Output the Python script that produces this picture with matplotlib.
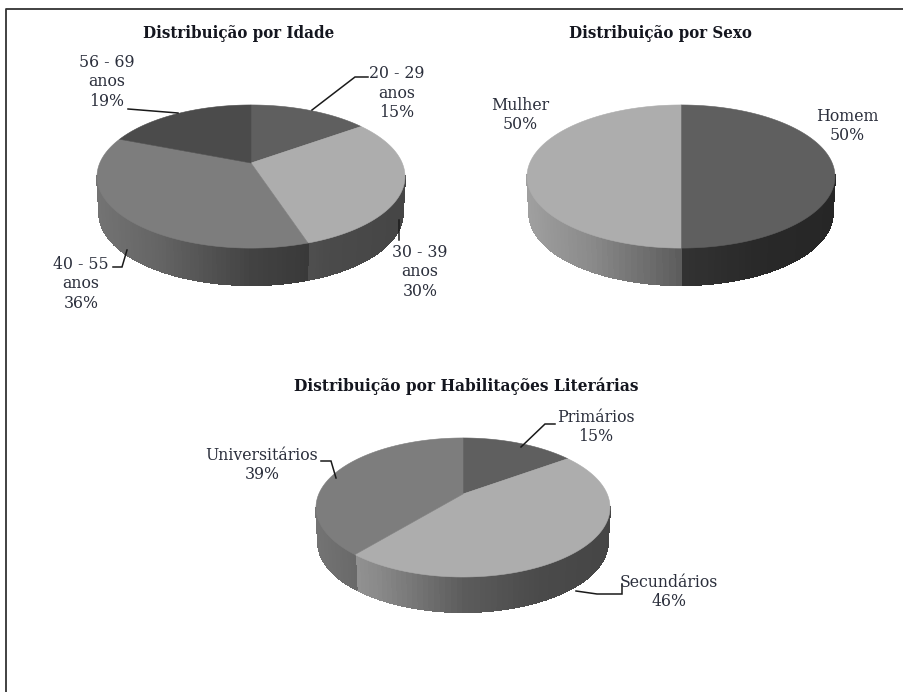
import numpy as np
import matplotlib
matplotlib.use("Agg")
import matplotlib.pyplot as plt
from matplotlib.patches import Polygon

# ---- data ----
idade_labels = ["20 - 29\nanos\n15%", "30 - 39\nanos\n30%", "40 - 55\nanos\n36%", "56 - 69\nanos\n19%"]
idade_values = [15, 30, 36, 19]
sexo_labels = ["Homem\n50%", "Mulher\n50%"]
sexo_values = [50, 50]
hab_labels = ["Primários\n15%", "Secundários\n46%", "Universitários\n39%"]
hab_values = [15, 46, 39]

idade_tones = ["#5f5f5f", "#adadad", "#7d7d7d", "#4b4b4b"]
sexo_tones = ["#5f5f5f", "#adadad"]
hab_tones = ["#5f5f5f", "#adadad", "#7d7d7d"]

TEXT = "#2b2f3c"
SERIF = "DejaVu Serif"

fig = plt.figure(figsize=(9.04, 6.92), dpi=100, facecolor="white")
ax = fig.add_axes([0, 0, 1, 1])
ax.set_xlim(0, 904)
ax.set_ylim(692, 0)
ax.axis("off")

# page frame (open on right and bottom)
ax.plot([6.5, 6.5, 904], [692, 8.5, 8.5], color="#333333", lw=1.3, solid_capstyle="butt")


def project(theta, cx, cy, sx, sy, k):
    """theta measured clockwise from the top of the disc; perspective mapping."""
    u, v = np.sin(theta), np.cos(theta)
    d = 1 + k * v
    return cx + sx * u / d, cy - sy * v / d


def side_factor(u):
    return np.interp(u, [-1, -0.6, 0, 0.5, 1], [0.92, 0.80, 0.53, 0.43, 0.40])


def pie3d(values, tones, cx, cy, sx, sy, k, depth, rx):
    vals = np.asarray(values, float)
    edges = np.concatenate([[0], np.cumsum(vals)]) / vals.sum() * 2 * np.pi
    # side strips
    for i, tone in enumerate(tones):
        base = np.array(matplotlib.colors.to_rgb(tone))
        th = np.linspace(edges[i], edges[i + 1], 90)
        x, y = project(th, cx, cy, sx, sy, k)
        for j in range(len(th) - 1):
            if np.cos(th[j]) > -k and np.cos(th[j + 1]) > -k:
                continue
            f = side_factor(((x[j] + x[j + 1]) / 2 - cx) / rx)
            xs = [x[j], x[j + 1], cx + (x[j + 1] - cx) * 0.985, cx + (x[j] - cx) * 0.985]
            ys = [y[j], y[j + 1], y[j + 1] + depth, y[j] + depth]
            ax.add_patch(Polygon(np.c_[xs, ys], closed=True, fc=np.clip(base * f, 0, 1),
                                 ec=np.clip(base * f, 0, 1), lw=0.8, antialiased=False, zorder=2))
    # top wedges
    for i, tone in enumerate(tones):
        th = np.linspace(edges[i], edges[i + 1], 180)
        x, y = project(th, cx, cy, sx, sy, k)
        ax.add_patch(Polygon(np.c_[np.r_[cx, x], np.r_[cy, y]], closed=True, fc=tone,
                             ec=tone, lw=0.4, zorder=3))


pie3d(idade_values, idade_tones, 251, 163, 151.2, 69, 0.189, 37, 154)
pie3d(sexo_values, sexo_tones, 681, 163, 151.2, 69, 0.189, 37, 154)
pie3d(hab_values, hab_tones, 463, 494, 144.2, 66.9, 0.194, 35, 147)

# leader lines
leaders = [
    ([312, 355, 368], [110, 77, 77]),
    ([399, 399], [220, 240]),
    ([113, 122, 127], [267, 267, 250]),
    ([128, 178], [109, 113]),
    ([521, 545, 555], [447, 424, 424]),
    ([576, 597, 622, 622], [591, 594, 594, 584]),
    ([321, 331, 336], [461, 461, 478]),
]
for lx, ly in leaders:
    ax.plot(lx, ly, color="#1a1a1a", lw=1.1, zorder=4, solid_joinstyle="miter")

# titles
for (tx, ty, fs), s in zip([(238.5, 33, 12.1), (660, 33, 12.1), (466, 386, 12.3)],
                           ["Distribuição por Idade", "Distribuição por Sexo",
                            "Distribuição por Habilitações Literárias"]):
    ax.text(tx, ty, s, family=SERIF, stretch="condensed", fontweight="bold", fontsize=fs,
            color="#14161f", ha="center", va="center", zorder=5)

# category labels
positions = {
    idade_labels[0]: (397, 93), idade_labels[1]: (420, 272),
    idade_labels[2]: (81, 284), idade_labels[3]: (107, 82),
}
for s, (tx, ty) in positions.items():
    ax.text(tx, ty, s, family=SERIF, stretch="condensed", fontsize=12.6, color=TEXT,
            ha="center", va="center", linespacing=1.2, zorder=5)
for s, (tx, ty) in zip(sexo_labels + hab_labels,
                       [(847, 126), (520, 115), (596, 427), (669, 592), (262, 465)]):
    ax.text(tx, ty, s, family=SERIF, stretch="condensed", fontsize=12.6, color=TEXT,
            ha="center", va="center", linespacing=1.2, zorder=5)

fig.savefig("out.png", dpi=100, facecolor="white")
